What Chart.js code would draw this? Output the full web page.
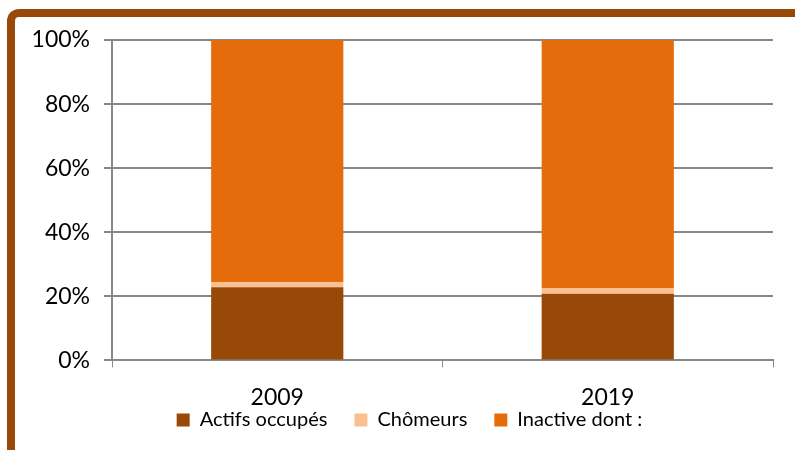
<!DOCTYPE html>
<html>
<head>
<meta charset="utf-8">
<script src="https://cdn.jsdelivr.net/npm/chart.js@4"></script>
<style>
  html, body { margin: 0; padding: 0; background: #fff; }
  #wrap { position: relative; width: 795px; height: 450px; overflow: hidden; }
  #frame {
    position: absolute; left: 7px; top: 9px; width: 820px; height: 480px;
    border-top: 8px solid #984807; border-left: 8px solid #984807;
    border-top-left-radius: 12px; box-sizing: border-box;
  }
  #chart { position: absolute; left: 0; top: 0; }
</style>
</head>
<body>
<div id="wrap">
  <div id="frame"></div>
  <canvas id="chart" width="795" height="450"></canvas>
</div>
<script>
const labels = ["2009", "2019"];
const actifs = [22.8, 20.8];
const chomeurs = [1.6, 1.8];
const inactifs = [75.6, 77.4];

const data = {
  labels: labels,
  datasets: [
    { label: "Actifs occupés", data: actifs, backgroundColor: "#984807" },
    { label: "Chômeurs", data: chomeurs, backgroundColor: "#FAC090" },
    { label: "Inactive dont :", data: inactifs, backgroundColor: "#E46C0A" },
  ],
};

// legend sits closer to the axis labels than Chart.js would put it
const legendSpacing = {
  id: "legendSpacing",
  afterInit: function (chart) {
    const legend = chart.legend;
    const fit = legend.fit;
    legend.fit = function () {
      fit.call(this);
      this.height = 23;
    };
  },
  afterLayout: function (chart) {
    const legend = chart.legend;
    legend.top = 383;
    legend.bottom = 450;
    legend.left += 23;
    legend.right += 23;
  },
};

const config = {
  type: "bar",
  data: data,
  plugins: [legendSpacing],
  options: {
    responsive: false,
    animation: false,
    categoryPercentage: 0.4,
    barPercentage: 1,
    layout: { padding: { top: 40, right: 22, left: 0, bottom: 0 } },
    plugins: {
      tooltip: { enabled: false },
      legend: {
        position: "bottom",
        labels: {
          font: { family: "Lato", size: 20 },
          color: "#000",
          boxWidth: 13,
          boxHeight: 13,
          padding: 27,
        },
      },
    },
    scales: {
      x: {
        stacked: true,
        grid: {
          offset: true,
          drawOnChartArea: false,
          tickLength: 7,
          color: "#888",
        },
        border: { color: "#888", width: 2 },
        ticks: { font: { family: "Lato", size: 23 }, color: "#000", padding: 16 },
      },
      y: {
        stacked: true,
        min: 0,
        max: 100,
        afterFit: function (scale) {
          scale.width = 112;
        },
        grid: { color: "#888", lineWidth: 2, tickLength: 8 },
        border: { color: "#888", width: 2 },
        ticks: {
          stepSize: 20,
          font: { family: "Lato", size: 23 },
          color: "#000",
          padding: 14,
          callback: function (value) {
            return value + "%";
          },
        },
      },
    },
  },
};

new Chart("chart", config);
</script>
</body>
</html>
